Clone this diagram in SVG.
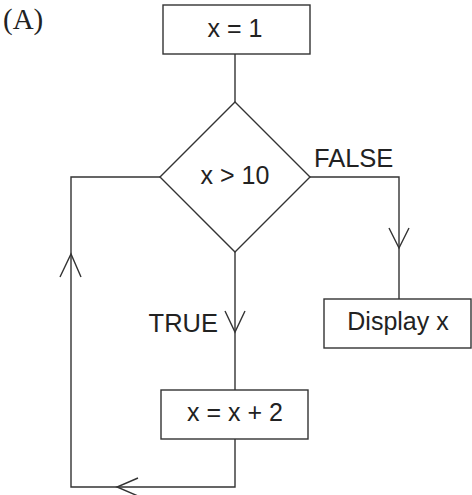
<svg xmlns="http://www.w3.org/2000/svg" width="472" height="495" viewBox="0 0 472 495">
<style>
.s{fill:#fff;stroke:#333;stroke-width:1.4}
.l{fill:none;stroke:#333;stroke-width:1.4}
.t{font-family:"Liberation Sans",Arial,sans-serif;font-size:25px;fill:#222}
.c{text-anchor:middle}
</style>
<rect width="472" height="495" fill="#fff"/>
<text x="3" y="29" style="font-family:'Liberation Serif','Times New Roman',serif;font-size:29px;fill:#222">(A)</text>
<g id="connectors">
<line class="l" x1="235" y1="54" x2="235" y2="102"/>
<polyline class="l" points="160,177 71,177 71,487 235,487 235,439"/>
<polyline class="l" points="310,177 399,177 399,299"/>
<line class="l" x1="235" y1="252" x2="235" y2="390"/>
<polyline class="l" points="389,228 399,248 409,228"/>
<polyline class="l" points="225,311 235,332 245,311"/>
<polyline class="l" points="60,277 71,254 81,277"/>
<polyline class="l" points="138,478 117,487 138,496"/>
<text class="t" x="314" y="167" style="font-size:25.5px">FALSE</text>
<text class="t" x="218" y="332" text-anchor="end" style="font-size:25.5px">TRUE</text>
</g>
<g id="start">
<rect class="s" x="163" y="5" width="147" height="49"/>
<text class="t c" x="235" y="37">x = 1</text>
</g>
<g id="decision">
<polygon class="s" points="235,102 310,177 235,252 160,177"/>
<text class="t c" x="235" y="184">x &gt; 10</text>
</g>
<g id="display">
<rect class="s" x="324" y="299" width="147" height="49"/>
<text class="t c" x="398" y="330">Display x</text>
</g>
<g id="increment">
<rect class="s" x="161" y="390" width="147" height="49"/>
<text class="t c" x="235" y="421">x = x + 2</text>
</g>
</svg>
